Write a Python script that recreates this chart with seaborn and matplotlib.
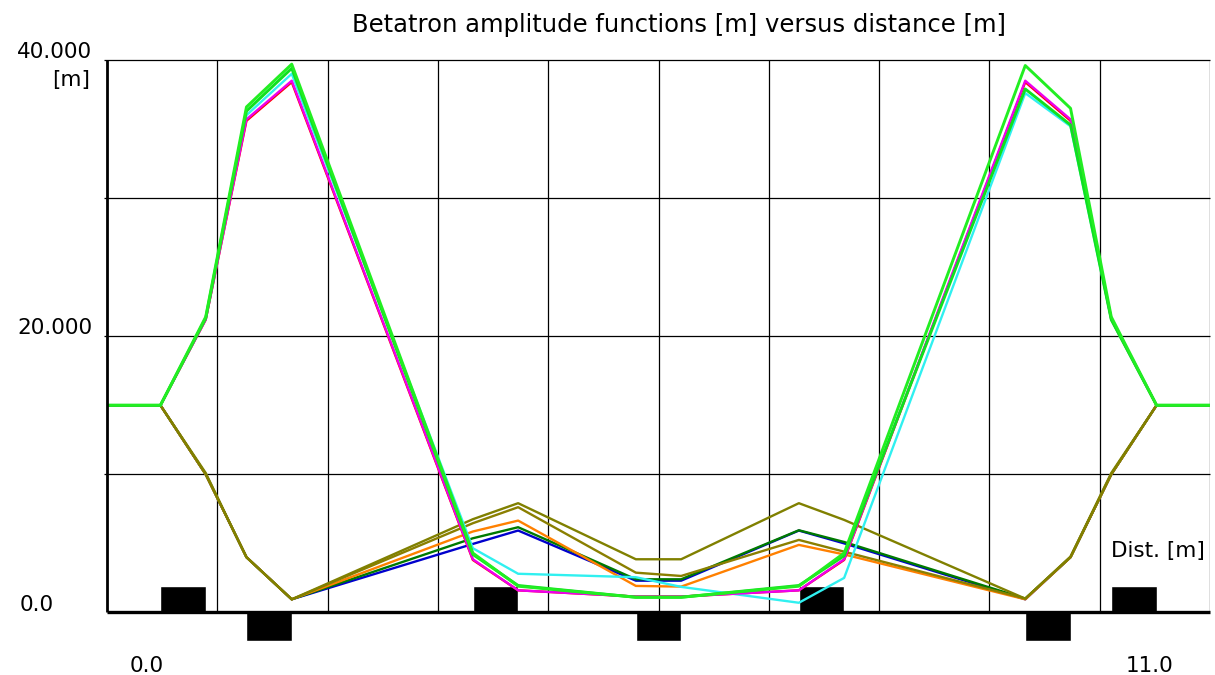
import numpy as np
import pandas as pd
import matplotlib
matplotlib.use('Agg')
import matplotlib.pyplot as plt
import seaborn as sns

sns.set_style('white')
plt.rcParams['font.family'] = ['DejaVu Sans']
plt.rcParams['text.color'] = 'black'

# Lattice positions [m] where the beta functions were sampled
s = [-0.59, 0.0, 0.5, 0.95, 1.45, 3.45, 3.95, 5.25, 5.75, 7.05, 7.55, 9.55, 10.05, 10.5, 11.0, 11.59]

# Betatron amplitude functions [m]
green_a = [15, 15, 21.4, 36.6, 39.7, 4.3, 1.9, 1.1, 1.1, 1.9, 4.3, 39.6, 36.5, 21.4, 15, 15]
green_b = [15, 15, 21.3, 36.3, 39.4, 4.2, 1.95, 1.1, 1.1, 1.95, 4.1, 37.9, 35.3, 21.2, 15, 15]
cyan = [15, 15, 21.3, 36.0, 39.0, 4.65, 2.8, 2.55, 1.85, 0.7, 2.5, 37.6, 35.2, 21.2, 15, 15]
magenta = [15, 15, 21.2, 35.7, 38.5, 3.85, 1.6, 1.15, 1.15, 1.6, 3.85, 38.5, 35.7, 21.3, 15, 15]
red = [15, 15, 21.2, 35.6, 38.4, 3.8, 1.6, 1.15, 1.15, 1.6, 3.8, 38.4, 35.6, 21.2, 15, 15]
blue = [15, 15, 10.0, 4.0, 0.95, 4.96, 5.93, 2.3, 2.3, 5.93, 5.0, 0.95, 4.0, 10.0, 15, 15]
dark_green = [15, 15, 10.0, 4.0, 0.95, 5.37, 6.17, 2.4, 2.4, 5.95, 5.1, 1.0, 4.0, 10.0, 15, 15]
orange = [15, 15, 10.0, 4.0, 0.95, 5.86, 6.65, 1.92, 1.87, 4.89, 4.2, 0.95, 4.0, 10.0, 15, 15]
olive_a = [15, 15, 10.1, 4.0, 0.95, 6.75, 7.91, 3.85, 3.85, 7.91, 6.7, 1.0, 4.05, 10.1, 15, 15]
olive_b = [15, 15, 10.0, 4.0, 0.95, 6.46, 7.62, 2.88, 2.64, 5.25, 4.4, 1.0, 4.0, 10.0, 15, 15]

# Quadrupoles: focusing drawn above the axis, defocusing below
quad_f_start = [0.0, 3.45, 7.05, 10.5]
quad_d_start = [0.95, 5.25, 9.55]
quad_length = 0.5

curves = {
    'blue': blue, 'dark_green': dark_green, 'orange': orange,
    'olive_b': olive_b, 'olive_a': olive_a,
    'red': red, 'cyan': cyan, 'magenta': magenta,
    'green_b': green_b, 'green_a': green_a,
}
colors = {
    'blue': '#0000cc', 'dark_green': '#007a00', 'orange': '#ff8000',
    'olive_b': '#8a7f00', 'olive_a': '#808000',
    'red': '#ff0000', 'cyan': '#30f0f0', 'magenta': '#ee00ee',
    'green_b': '#10e020', 'green_a': '#22ee22',
}

df = pd.concat([pd.DataFrame({'s': s, 'beta': v, 'curve': k}) for k, v in curves.items()],
               ignore_index=True)

fig = plt.figure(figsize=(12.15, 6.75), dpi=100)
ax = fig.add_axes([107 / 1215, 0, 1103 / 1215, 615 / 675])
xmin, xmax = -0.59, 11.59
ax.set_xlim(xmin, xmax)
ax.set_ylim(-4.53, 40)
for sp in ax.spines.values():
    sp.set_visible(False)
ax.set_xticks([])
ax.set_yticks([])

# grid and axes lines
ax.vlines(np.linspace(xmin, xmax, 11)[1:], 0, 40, color='black', lw=0.9, zorder=1)
ax.hlines([10, 20, 30, 40], xmin - 0.035, xmax, color='black', lw=0.9, zorder=1, clip_on=False)
ax.vlines(xmin, 0, 40, color='black', lw=2.0, zorder=4, clip_on=False)
ax.hlines(0, xmin, xmax, color='black', lw=2.4, zorder=4, clip_on=False)

# magnets
ax.bar(quad_f_start, 1.95, width=quad_length, align='edge', bottom=0, color='black', zorder=2)
ax.bar(quad_d_start, -2.1, width=quad_length, align='edge', bottom=0, color='black', zorder=2)

sns.lineplot(data=df, x='s', y='beta', hue='curve', hue_order=list(curves.keys()),
             palette=colors, sort=False, estimator=None, legend=False,
             linewidth=1.7, ax=ax, zorder=3)
for line in ax.get_lines():
    if line.get_color() in ('#10e020', '#22ee22'):
        line.set_linewidth(2.1)
ax.set_xlabel('')
ax.set_ylabel('')

fs = 15.5
ytr = ax.get_yaxis_transform()
ax.text(-0.0135, 40.15, '40.000', transform=ytr, ha='right', va='baseline', fontsize=fs)
ax.text(-0.015, 38.1, '[m]', transform=ytr, ha='right', va='baseline', fontsize=fs)
ax.text(-0.0135, 20.15, '20.000', transform=ytr, ha='right', va='baseline', fontsize=fs)
ax.text(-0.048, 0.1, '0.0', transform=ytr, ha='right', va='baseline', fontsize=fs)
ax.text(-0.155, -4.3, '0.0', ha='center', va='baseline', fontsize=fs, clip_on=False)
ax.text(10.92, -4.3, '11.0', ha='center', va='baseline', fontsize=fs, clip_on=False)
ax.text(11.02, 4.05, 'Dist. [m]', ha='center', va='baseline', fontsize=fs)

fig.text(679 / 1215, 1 - 25 / 675, 'Betatron amplitude functions [m] versus distance [m]',
         ha='center', va='center', fontsize=17.5)

fig.savefig('out.png', dpi=100)
